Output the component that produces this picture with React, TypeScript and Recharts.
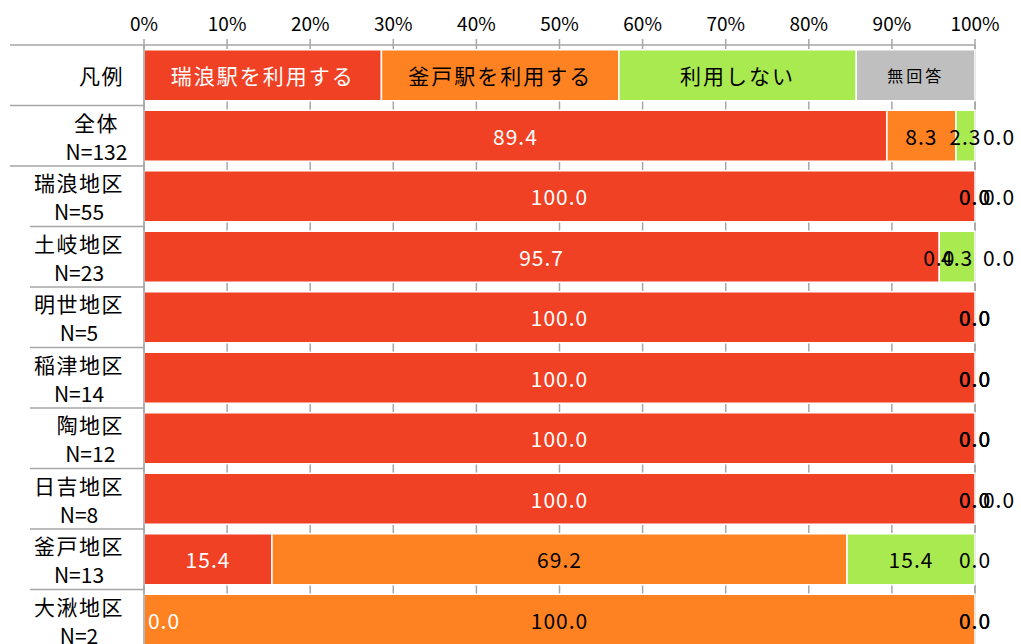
import React from 'react';
import { BarChart, Bar, XAxis, YAxis, CartesianGrid, LabelList } from 'recharts';

const categories = ['凡例', '全体', '瑞浪地区', '土岐地区', '明世地区', '稲津地区', '陶地区', '日吉地区', '釜戸地区', '大湫地区'];
const sampleSizes = [null, 132, 55, 23, 5, 14, 12, 8, 13, 2];
const seriesNames = ['瑞浪駅を利用する', '釜戸駅を利用する', '利用しない', '無回答'];
const legendWeights = [2, 2, 2, 1];
const mizunamiStation = [89.4, 100.0, 95.7, 100.0, 100.0, 100.0, 100.0, 15.4, 0.0];
const kamadoStation = [8.3, 0.0, 0.0, 0.0, 0.0, 0.0, 0.0, 69.2, 100.0];
const notUsing = [2.3, 0.0, 4.3, 0.0, 0.0, 0.0, 0.0, 15.4, 0.0];
const noAnswer = [0.0, 0.0, 0.0, 0.0, 0.0, 0.0, 0.0, 0.0, 0.0];
const xTicks = [0, 10, 20, 30, 40, 50, 60, 70, 80, 90, 100];
const outsideNoAnswerRows = ['全体', '瑞浪地区', '土岐地区', '日吉地区'];

const seriesValues = [mizunamiStation, kamadoStation, notUsing, noAnswer];
const colors = ['#F04124', '#FF8222', '#A9EA50', '#BFBFBF'];
const labelColors = ['#FFFFFF', '#000000', '#000000', '#000000'];
const keys = ['s0', 's1', 's2', 's3'];

const FONT = '"Noto Sans CJK JP", "Noto Sans", sans-serif';
const W = 1021;
const H = 650;
const TOP = 45;
const LEFT = 144;
const RIGHT = 975;
const BAND = (H - TOP) / categories.length;

const legendTotal = legendWeights.reduce((a, b) => a + b, 0);
const data = categories.map((name, i) => {
  const row: any = { name, n: sampleSizes[i] };
  keys.forEach((k, s) => {
    row[k] = i === 0 ? (legendWeights[s] / legendTotal) * 100 : seriesValues[s][i - 1];
  });
  return row;
});

const textWidth = (t: string) => {
  let w = 0;
  for (const ch of t) w += ch.charCodeAt(0) > 255 ? 22.5 : 11;
  return w;
};

const CategoryTick = (props: any) => {
  const { y, payload } = props;
  const idx = categories.indexOf(payload.value);
  const yTop = y - BAND / 2;
  const yBottom = y + BAND / 2;
  const sepStart = idx <= 1 ? 10 : 30;
  const els: any[] = [];
  if (idx === 0) {
    els.push(<line key="top" x1={10} x2={LEFT} y1={yTop} y2={yTop} stroke="#A6A6A6" strokeWidth={1.5} />);
  }
  els.push(<line key="sep" x1={sepStart} x2={LEFT} y1={yBottom} y2={yBottom} stroke="#A6A6A6" strokeWidth={1.5} />);
  if (idx === 0) {
    els.push(
      <text key="t" x={124} y={y} textAnchor="end" dominantBaseline="central" fontFamily={FONT} fontSize={21} letterSpacing={1.5} fill="#000">
        {payload.value}
      </text>
    );
  } else {
    const l1 = String(payload.value);
    const l2 = `N=${sampleSizes[idx]}`;
    const bw = Math.max(textWidth(l1), textWidth(l2));
    const cx = 124 - bw / 2;
    els.push(
      <text key="t1" x={cx} y={y - 14} textAnchor="middle" dominantBaseline="central" fontFamily={FONT} fontSize={21} letterSpacing={1.5} fill="#000">
        {l1}
      </text>
    );
    els.push(
      <text key="t2" x={cx} y={y + 15} textAnchor="middle" dominantBaseline="central" fontFamily={FONT} fontSize={21} fill="#000">
        {l2}
      </text>
    );
  }
  return <g>{els}</g>;
};

// Labels for a whole row are drawn from the first non-zero segment of that row,
// using that segment's rectangle to recover the value-to-pixel scale.
const makeLabel = (s: number) => (props: any) => {
  const { x, y, width, height } = props;
  const cy = Number(y) + Number(height) / 2;
  const rowIdx = Math.floor((cy - TOP) / BAND);
  const row = data[rowIdx];
  if (!row) return null;
  const vals = keys.map((k) => Number(row[k]));
  const first = vals.findIndex((v) => v > 0);
  if (s !== first) return null;
  const ppu = Number(width) / vals[s];
  const before = vals.slice(0, s).reduce((a, b) => a + b, 0);
  const x0 = Number(x) - before * ppu;
  const out: any[] = [];
  let cum = 0;
  vals.forEach((v, j) => {
    const sx = x0 + cum * ppu;
    const sw = v * ppu;
    cum += v;
    if (rowIdx === 0) {
      out.push(
        <text key={j} x={sx + sw / 2} y={cy} textAnchor="middle" dominantBaseline="central" fontFamily={FONT}
          fontSize={j === 3 ? 16 : 21} letterSpacing={j === 3 ? 3 : 2} fill={labelColors[j]}>
          {seriesNames[j]}
        </text>
      );
      return;
    }
    let lx = sx + sw / 2;
    if (!(v > 0)) {
      if (j === 0) lx = sx + 20;
      else if (j === 3 && outsideNoAnswerRows.includes(categories[rowIdx])) lx = sx + 24;
      else lx = sx;
    }
    out.push(
      <text key={j} x={lx} y={cy} textAnchor="middle" dominantBaseline="central" fontFamily={FONT} fontSize={21}
        letterSpacing={1} fill={labelColors[j]}>
        {v.toFixed(1)}
      </text>
    );
  });
  return <g>{out}</g>;
};

export default function App() {
  return (
    <div style={{ position: 'absolute', left: 0, top: 0, width: W, height: 644, overflow: 'hidden', background: '#fff' }}>
      <BarChart
        width={W}
        height={H}
        data={data}
        layout="vertical"
        margin={{ top: 0, right: W - RIGHT, bottom: 0, left: 10 }}
        barCategoryGap="8%"
      >
        <CartesianGrid horizontal={false} vertical stroke="#A6A6A6" strokeWidth={1.5} />
        <XAxis
          type="number"
          orientation="top"
          domain={[0, 100]}
          ticks={xTicks}
          height={TOP}
          tickSize={6}
          tickMargin={8}
          tickFormatter={(v: number) => `${v}%`}
          axisLine={{ stroke: '#A6A6A6', strokeWidth: 1.5 }}
          tickLine={{ stroke: '#A6A6A6', strokeWidth: 1.5 }}
          tick={{ fill: '#000', fontFamily: FONT, fontSize: 19 }}
          interval={0}
        />
        <YAxis
          type="category"
          dataKey="name"
          width={LEFT - 10}
          axisLine={{ stroke: '#A6A6A6', strokeWidth: 1.5 }}
          tickLine={false}
          tick={<CategoryTick />}
          interval={0}
        />
        {keys.map((k, s) => (
          <Bar key={k} dataKey={k} stackId="a" fill={colors[s]} stroke="#FFFFFF" strokeWidth={1.5} isAnimationActive={false}>
            <LabelList dataKey={k} content={makeLabel(s)} />
          </Bar>
        ))}
      </BarChart>
    </div>
  );
}
